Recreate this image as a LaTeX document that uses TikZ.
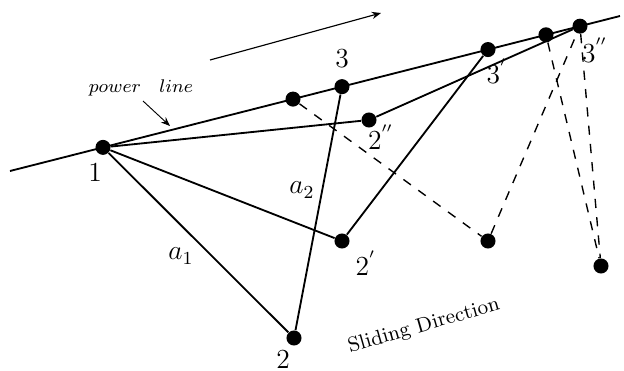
\documentclass[tikz,border=0pt]{standalone}
\usetikzlibrary{calc, positioning}
\usetikzlibrary{arrows.meta}

\tikzset{
  dot/.style={circle, fill=black, inner sep=0pt, minimum size=0.23cm},
  lbl/.style={inner sep=0pt, font=\large},
  bar/.style={line width=0.8pt},
  ghost/.style={line width=0.6pt, dash pattern=on 4pt off 4pt}
}

\begin{document}
\begin{tikzpicture}[x=0.0153cm, y=-0.0153cm]
\useasboundingbox (0,0) rectangle (624,371);
\coordinate (L) at (10,171);
\coordinate (R) at (620,16);

% points on the power line
\node[dot] (n1) at ($(L)!{93/610}!(R)$) {};
\node[dot] (m1) at ($(L)!{283/610}!(R)$) {};
\node[dot] (n3) at ($(L)!{332/610}!(R)$) {};
\node[dot] (n3p) at ($(L)!{478/610}!(R)$) {};
\node[dot] (m2) at ($(L)!{536/610}!(R)$) {};
\node[dot] (n3pp) at ($(L)!{570/610}!(R)$) {};

% other points
\node[dot] (n2) at (294,338) {};
\node[dot] (n2p) at (342,241) {};
\node[dot] (n2pp) at (369,120) {};
\node[dot] (m3) at (488,241) {};
\node[dot] (m4) at (601,266) {};

\draw[bar] (L) -- (R);
\draw[bar] (n1) -- (n2);
\draw[bar] (n2) -- (n3);
\draw[bar] (n1) -- (n2p);
\draw[bar] (n2p) -- (n3p);
\draw[bar] (n1) -- (n2pp);
\draw[bar] (n2pp) -- (n3pp);

\draw[ghost] (m1) -- (m3);
\draw[ghost] (m3) -- (n3pp);
\draw[ghost] (m2) -- (m4);
\draw[ghost] (n3pp) -- (m4);

\node[lbl] (t1) at (95,173) {$1$};
\node[lbl] (t2) at (283,360) {$2$};
\node[lbl] (t3) at (342,59) {$3$};
\node[lbl] (t2p) at (366,263) {$2^{'}$};
\node[lbl] (t2pp) at (381,137) {$2^{''}$};
\node[lbl] (t3p) at (497,71) {$3^{'}$};
\node[lbl] (t3pp) at (595,50) {$3^{''}$};
\node[lbl] (ta1) at (181,256) {$a_1$};
\node[lbl] (ta2) at (302,190) {$a_2$};

\node[font=\footnotesize, inner sep=0pt] (pl) at (141,88) {$power\quad line$};
\coordinate (plt) at (170,126);
\draw[line width=0.4pt, -{Stealth[length=1.4mm, width=1.1mm]}] (143,101) -- (plt);

\coordinate (ds) at (210,60);
\coordinate (de) at (381,13);
\draw[line width=0.5pt, -{Stealth[length=1.4mm, width=1.1mm]}] (ds) -- (de);
\node[font=\small, rotate=16] (sd) at (424,326) {Sliding Direction};
\end{tikzpicture}
\end{document}
